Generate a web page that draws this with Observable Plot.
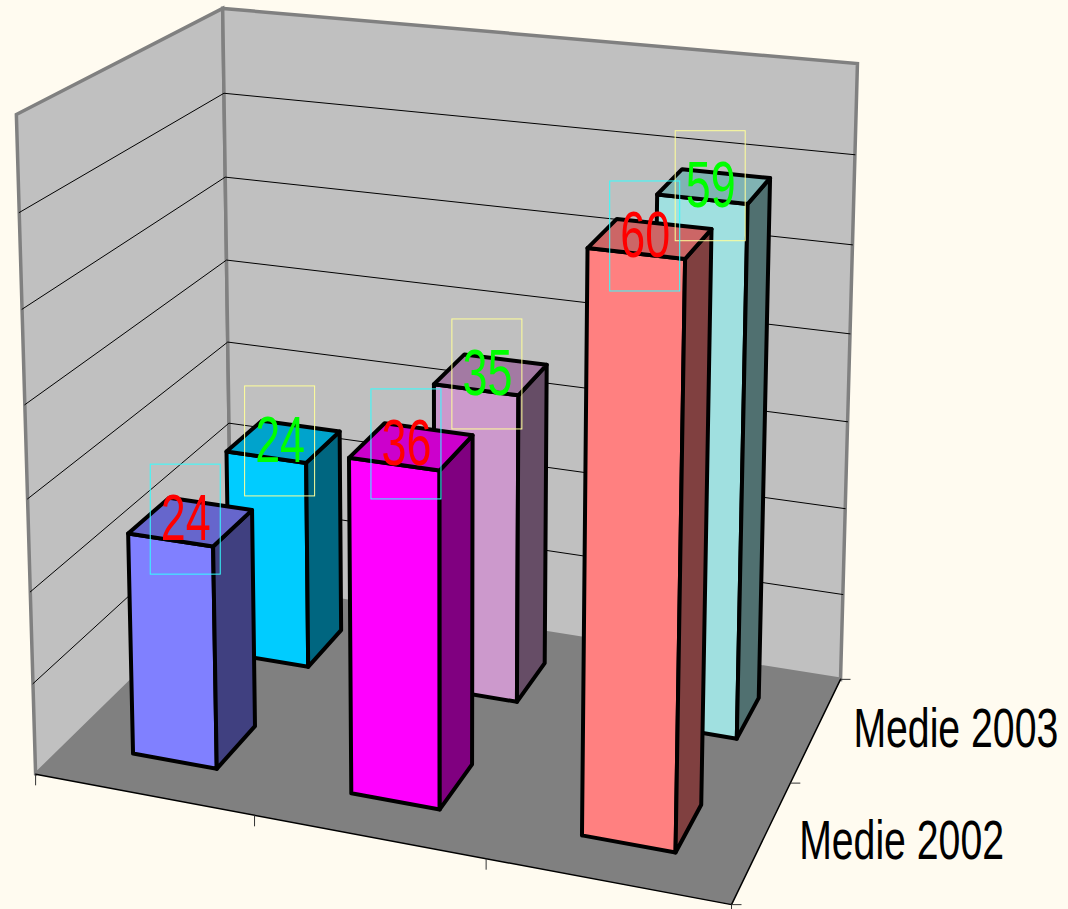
<!DOCTYPE html>
<html>
<head>
<meta charset="utf-8">
<script src="https://cdn.jsdelivr.net/npm/d3@7"></script>
<script src="https://cdn.jsdelivr.net/npm/@observablehq/plot@0.6"></script>
<style>html,body{margin:0;padding:0;background:#FFFBF0}svg{display:block}</style>
</head>
<body>
<div id="chart"></div>
<script>
// ---- data ----
const seriesNames = ["Medie 2002", "Medie 2003"];
const values2002 = [24.4, 36, 60.4];
const values2003 = [24, 35, 58.7];
const gridValues = [10, 20, 30, 40, 50, 60];
const maxValue = 70;
const categoryCount = 3;
// ---- styles ----
const colors2002 = ["#8080FF", "#FF00FF", "#FF8080"];
const colors2003 = ["#00CCFF", "#CC99CC", "#A0E0E0"];
const labelColors = ["#FF0000", "#00FF00"];
const boxColors = ["#33FFFF", "#FFFF99"];

// ---- camera: fitted from the chart box corners (category, depth, value) ----
const W = 1068, H = 909;
const boxCorners = [
  [[0,0,0],[35,774]], [[1,0,0],[731,904]], [[1,1,0],[840,679]], [[0,1,0],[231,582]],
  [[0,0,1],[16,114]], [[0,1,1],[222,8]],   [[1,1,1],[857,63]]
];
function solveCamera(corners) {
  const rows = [], rhs = [];
  for (const [[a,b,c],[u,v]] of corners) {
    rows.push([a,b,c,1,0,0,0,0,-u*a,-u*b,-u*c]); rhs.push(u);
    rows.push([0,0,0,0,a,b,c,1,-v*a,-v*b,-v*c]); rhs.push(v);
  }
  const n = 11;
  const M = d3.range(n).map(i => [
    ...d3.range(n).map(j => d3.sum(rows, r => r[i]*r[j])),
    d3.sum(rows, (r,k) => r[i]*rhs[k])
  ]);
  for (let i = 0; i < n; i++) {
    let p = i;
    for (let k = i+1; k < n; k++) if (Math.abs(M[k][i]) > Math.abs(M[p][i])) p = k;
    [M[i],M[p]] = [M[p],M[i]];
    for (let k = 0; k < n; k++) if (k !== i) {
      const f = M[k][i]/M[i][i];
      for (let j = i; j <= n; j++) M[k][j] -= f*M[i][j];
    }
  }
  return M.map((r,i) => r[n]/r[i]);
}
const cam = solveCamera(boxCorners);
function project(a, b, c) {
  const w = cam[8]*a + cam[9]*b + cam[10]*c + 1;
  return [(cam[0]*a+cam[1]*b+cam[2]*c+cam[3])/w, (cam[4]*a+cam[5]*b+cam[6]*c+cam[7])/w];
}
const P = (a,b,val) => project(a, b, val/maxValue);

// ---- faces ----
const faces = [];
function face(id, corners, fill) {
  [...corners, corners[0]].forEach(q => {
    const [x,y] = P(...q);
    faces.push({id, x, y, fill});
  });
}
const shade = (c, k) => { const r = d3.rgb(c); return d3.rgb(r.r*k, r.g*k, r.b*k).formatHex(); };
const barFrac = 0.39;
const rows = [
  {row:1, values:values2003, colors:colors2003, ox:-3.5, oy:0},
  {row:0, values:values2002, colors:colors2002, ox:-5, oy:-2}
];
const labels = [], boxes = [];
for (const {row, values, colors, ox, oy} of rows) {
  values.forEach((v,i) => {
    const x0 = (i+.5-barFrac/2)/categoryCount, x1 = (i+.5+barFrac/2)/categoryCount;
    const y0 = (row+.5-.2)/2, y1 = (row+.5+.2)/2;
    const c = colors[i], id = `${row}-${i}`;
    face(id+"f", [[x0,y0,0],[x1,y0,0],[x1,y0,v],[x0,y0,v]], c);
    face(id+"s", [[x1,y0,0],[x1,y1,0],[x1,y1,v],[x1,y0,v]], shade(c,.5));
    face(id+"t", [[x0,y0,v],[x1,y0,v],[x1,y1,v],[x0,y1,v]], shade(c,.8));
    const [lx,ly] = P((x0+x1)/2,(y0+y1)/2,v);
    labels.push({x:lx+ox, y:ly+oy, text:String(Math.round(v)), row});
    boxes.push({x:lx+ox, y:ly+oy, row});
  });
}

const wall = (pts) => [...pts, pts[0]].map(q => { const [x,y] = P(...q); return {x,y}; });
const leftWall = wall([[0,0,0],[0,1,0],[0,1,maxValue],[0,0,maxValue]]);
const backWall = wall([[0,1,0],[1,1,0],[1,1,maxValue],[0,1,maxValue]]);
const floor = wall([[0,0,0],[1,0,0],[1,1,0],[0,1,0]]);
const floorEdge = [[0,0,0],[1,0,0],[1,1,0]].map(q => { const [x,y]=P(...q); return {x,y}; });

const grid = gridValues.flatMap(g => [[0,0,g],[0,1,g],[1,1,g]].map(q => {
  const [x,y] = P(...q); return {x,y,g};
}));

const frontTicks = d3.range(categoryCount+1).map(i => { const [x,y]=P(i/categoryCount,0,0); return {x,y}; });
const sideTicks = d3.range(3).map(i => { const [x,y]=P(1,i/2,0); return {x,y}; });
const seriesLabels = seriesNames.map((name,i) => {
  const [x,y]=P(1,(i+.5)/2,0); return {x,y,name};
});

const chart = Plot.plot({
  width: W, height: H,
  margin: 0,
  style: {background:"#FFFBF0"},
  x: {domain:[0,W], range:[0,W], axis:null},
  y: {domain:[0,H], range:[0,H], axis:null},
  color: {type:"identity"},
  marks: [
    Plot.line(leftWall, {x:"x", y:"y", fill:"#C0C0C0", stroke:"#808080", strokeWidth:3.5, strokeLinejoin:"miter", strokeMiterlimit:4}),
    Plot.line(backWall, {x:"x", y:"y", fill:"#C0C0C0", stroke:"#808080", strokeWidth:3.5, strokeLinejoin:"miter", strokeMiterlimit:4}),
    Plot.line(floor, {x:"x", y:"y", fill:"#808080", stroke:"none"}),
    Plot.line(grid, {x:"x", y:"y", z:"g", stroke:"#000", strokeWidth:1}),
    Plot.line(floorEdge, {x:"x", y:"y", stroke:"#000", strokeWidth:1.5}),
    Plot.link(frontTicks, {x1:"x", y1:"y", x2:"x", y2:d=>d.y+11, stroke:"#333", strokeWidth:1}),
    Plot.link(sideTicks, {x1:"x", y1:"y", x2:d=>d.x+10, y2:"y", stroke:"#333", strokeWidth:1}),
    Plot.line(faces, {x:"x", y:"y", z:"id", fill:"fill", stroke:"#000", strokeWidth:4, strokeLinejoin:"round"}),
    Plot.rect(boxes, {x1:d=>d.x-35, x2:d=>d.x+35, y1:d=>d.y-55, y2:d=>d.y+55, fill:"none", stroke:d=>boxColors[d.row], strokeWidth:1}),
    Plot.text(labels, {x:"x", y:"y", text:"text", fill:d=>labelColors[d.row], fontSize:64, fontFamily:"'Liberation Sans', sans-serif", className:"narrow-text"}),
    Plot.text(seriesLabels, {x:"x", y:"y", text:"name", textAnchor:"start", dx:37, dy:0, fill:"#000", fontSize:56, fontFamily:"'Liberation Sans', sans-serif", className:"narrow-text"})
  ]
});
document.getElementById("chart").append(chart);
// The reference face is a condensed sans: compress the real text horizontally.
chart.querySelectorAll(".narrow-text text").forEach(t => {
  t.setAttribute("lengthAdjust", "spacingAndGlyphs");
  t.setAttribute("textLength", t.getComputedTextLength() * 0.70);
});
</script>
</body>
</html>
